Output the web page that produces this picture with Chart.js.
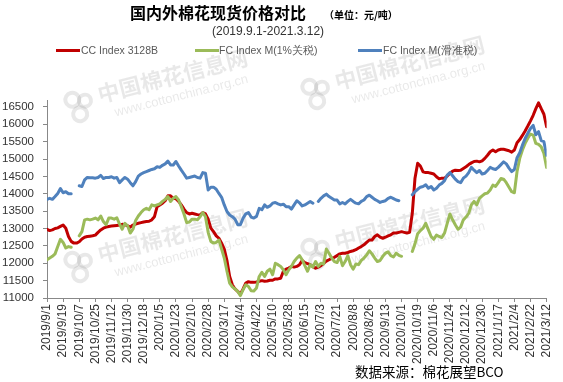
<!DOCTYPE html>
<html>
<head>
<meta charset="utf-8">
<script src="https://cdn.jsdelivr.net/npm/chart.js@4/dist/chart.umd.min.js"></script>
<style>
body { margin: 0; background: #fff; }
#wrap { position: relative; width: 563px; height: 382px; font-family: "Liberation Sans", Arial, sans-serif; }
#chart { position: absolute; left: 0; top: 0; }
.t { position: absolute; white-space: nowrap; }
.key { position: absolute; height: 3px; width: 24px; }
</style>
</head>
<body>
<div id="wrap">
  <canvas id="chart" width="563" height="382"></canvas>
  <div class="t" style="left:130px;top:0;line-height:20px;font:bold 16px 'Noto Sans CJK SC';color:#000;">国内外棉花现货价格对比</div>
  <div class="t" style="left:324px;top:7px;line-height:14px;font:bold 10px 'Noto Sans CJK SC';color:#000;">（单位：元/吨）</div>
  <div class="t" style="left:212px;top:23px;line-height:16px;font-size:12px;color:#333;">(2019.9.1-2021.3.12)</div>

  <div class="key" style="left:56px;top:49px;background:#C00000;"></div>
  <div class="t" style="left:81px;top:44px;line-height:13px;font-size:10.5px;color:#595959;">CC Index 3128B</div>
  <div class="key" style="left:195px;top:49px;background:#9BBB59;"></div>
  <div class="t" style="left:219px;top:44px;line-height:13px;font-size:10.5px;color:#595959;">FC Index M(1%关税)</div>
  <div class="key" style="left:358px;top:49px;background:#4F81BD;"></div>
  <div class="t" style="left:383px;top:44px;line-height:13px;font-size:10.5px;color:#595959;">FC Index M(滑准税)</div>

  <div class="t" style="left:355px;top:361px;line-height:18px;font:13.5px 'Noto Sans CJK SC';color:#000;">数据来源：棉花展望BCO</div>
</div>
<script>
// one value every 3 days from 2019/9/1 to 2021/3/12
const START = Date.UTC(2019, 8, 1);
const STEP_DAYS = 3;
const LAST_DAY = 558;
const TICK_DAYS = 18;
const yTicks = [11000, 11500, 12000, 12500, 13000, 13500, 14000, 14500, 15000, 15500, 16000, 16500];

const ccIndex = [
  12980,12940,12960,13000,13020,13060,13100,13010,12770,12630,
  12580,12580,12620,12700,12750,12770,12780,12790,12810,12890,
  12960,13010,13040,13060,13070,13080,13090,13100,13120,13110,
  13080,13040,13100,13130,13150,13170,13190,13200,13210,13250,
  13340,13630,13680,13730,13800,13940,13940,13870,13860,13780,
  13680,13560,13460,13420,13440,13420,13400,13390,13460,13420,
  13270,13010,12910,12790,12720,12580,12410,12080,11620,11380,
  11260,11190,11110,11260,11430,11470,11450,11450,11460,11480,
  11500,11480,11490,11510,11510,11550,11550,11570,11770,11830,
  11860,11910,11890,11910,11960,12080,12020,11990,11960,11910,
  11860,11890,11930,12000,12060,12100,12140,12170,12220,12270,
  12290,12290,12310,12340,12360,12390,12440,12480,12530,12600,
  12670,12670,12770,12820,12750,12720,12750,12790,12820,12870,
  12870,12890,12910,12890,12870,12890,13440,14450,14880,14800,
  14630,14610,14610,14590,14570,14490,14430,14450,14450,14510,
  14590,14650,14680,14670,14680,14730,14780,14840,14890,14930,
  14940,14920,14950,15020,15110,15210,15260,15210,15260,15280,
  15280,15260,15240,15200,15260,15470,15560,15680,15810,15950,
  16100,16260,16450,16620,16450,16290,15930
];

const fcIndexM1 = [
  12100,12150,12200,12270,12480,12690,12600,12440,12480,12460,
  null,null,12790,12910,13250,13270,13250,13270,13300,13250,
  13360,13200,13110,13300,13300,13270,13310,13130,12980,13150,
  13080,12870,12980,13230,13360,13460,13540,13580,13540,13680,
  13650,13680,13710,13780,13840,13920,13780,13870,13920,13820,
  13630,13420,13170,13190,13270,13270,13250,13340,13460,13340,
  12890,12630,12580,12600,12670,12410,12150,11770,11430,11320,
  11260,11190,11070,11240,11380,11330,11210,11200,11290,11620,
  11740,11620,11770,11830,11670,12000,11960,11910,11810,11670,
  11810,11910,12050,12150,12220,12100,11930,11770,11960,11890,
  12050,11910,12000,11980,12410,12290,12150,12050,12020,12200,
  11930,12050,12220,11960,11830,11980,11960,12080,12150,12240,
  12360,12270,12150,12050,12080,12200,12290,12330,12220,12180,
  12290,12230,12200,null,null,null,12340,12560,12850,12940,
  13010,13150,12960,12770,12690,12810,12770,12740,12870,13150,
  13420,13250,13110,12980,13040,13250,13330,13440,13680,13780,
  13680,13870,13940,14000,14020,14110,14250,14210,14320,14440,
  14420,14320,14190,14060,14030,14640,15020,15260,15450,15600,
  15720,15690,15450,15420,15350,15160,14760
];

const fcIndexSlide = [
  13840,13870,13840,13920,14010,14150,14030,14060,14000,14000,
  null,null,14230,14210,14400,14470,14460,14460,14450,14470,
  14530,14440,14470,14470,14490,14450,14470,14320,14400,14470,
  14420,14320,14230,14350,14510,14570,14610,14640,14670,14700,
  14720,14780,14760,14820,14860,14940,14830,14830,14930,14800,
  14680,14570,14450,14470,14490,14510,14470,14450,14610,14590,
  14110,14190,14190,14130,14010,13900,13680,13490,13390,13340,
  13270,13110,13110,13300,13420,13460,13330,13300,13350,13580,
  13540,13680,13610,13650,13730,13750,13710,13680,13700,13630,
  13630,13560,13680,13800,13740,13650,13680,13730,13780,13730,
  null,13780,13870,13940,13990,13920,13870,13820,13820,13710,
  13750,13710,13780,13840,13780,13730,13710,13780,13820,13920,
  13960,13900,13840,13800,13750,13780,13800,13870,13900,13860,
  13820,13800,null,null,null,null,13970,14060,14130,14190,
  14210,14260,14160,14210,14110,14160,14250,14300,14380,14540,
  14610,14520,14420,14350,14320,14450,14510,14610,14760,14680,
  14610,14670,14570,14590,14670,14760,14720,14700,14760,14840,
  14920,14860,14740,14640,14700,15040,15180,15400,15590,15740,
  15880,15970,15700,15790,15530,15500,15110
];

function toPoints(arr) {
  return arr.map((v, i) => ({ x: i * STEP_DAYS, y: v }));
}

function dayLabel(d) {
  const t = new Date(START + d * 86400000);
  return t.getUTCFullYear() + "/" + (t.getUTCMonth() + 1) + "/" + t.getUTCDate();
}

// faint site watermark behind the plot
const watermark = {
  id: "watermark",
  beforeDraw(chart) {
    const ctx = chart.ctx;
    const spots = [[100, 103], [337, 90], [100, 263], [337, 250]];
    ctx.save();
    spots.forEach(([x, y]) => {
      ctx.save();
      ctx.translate(x, y);
      ctx.rotate(-0.25);
      ctx.fillStyle = "rgba(0,0,0,0.09)";
      ctx.font = "bold 22px 'Noto Sans CJK SC'";
      ctx.fillText("中国棉花信息网", 0, 0);
      ctx.font = "13px 'Liberation Sans'";
      ctx.fillText("www.cottonchina.org.cn", 12, 17);
      ctx.strokeStyle = "rgba(0,0,0,0.09)";
      ctx.lineWidth = 4;
      [[-26, -10, 7], [-14, -6, 6], [-22, 6, 7]].forEach(([cx, cy, r]) => {
        ctx.beginPath();
        ctx.arc(cx, cy, r, 0, Math.PI * 2);
        ctx.stroke();
      });
      ctx.restore();
    });
    ctx.restore();
  }
};

const axisGrid = { drawOnChartArea: false, drawTicks: true, tickLength: 4, color: "#888" };

new Chart(document.getElementById("chart"), {
  type: "line",
  data: {
    datasets: [
      { label: "CC Index 3128B", data: toPoints(ccIndex), borderColor: "#C00000", order: 3 },
      { label: "FC Index M(1%关税)", data: toPoints(fcIndexM1), borderColor: "#9BBB59", order: 2 },
      { label: "FC Index M(滑准税)", data: toPoints(fcIndexSlide), borderColor: "#4F81BD", order: 1 }
    ]
  },
  plugins: [watermark],
  options: {
    responsive: false,
    animation: false,
    spanGaps: false,
    layout: { padding: { top: 100, right: 10, left: 0, bottom: 0 } },
    plugins: { legend: { display: false }, tooltip: { enabled: false } },
    elements: {
      point: { radius: 0 },
      line: { borderWidth: 3, tension: 0, borderJoinStyle: "round", borderCapStyle: "round" }
    },
    scales: {
      x: {
        type: "linear",
        min: 0,
        max: LAST_DAY,
        ticks: {
          stepSize: TICK_DAYS,
          maxTicksLimit: 40,
          autoSkip: false,
          maxRotation: 90,
          minRotation: 90,
          padding: 2,
          color: "#333",
          font: { family: "Liberation Sans", size: 12 },
          callback: v => dayLabel(v)
        },
        grid: axisGrid,
        border: { color: "#888" },
        afterFit: s => { s.height = 84; }
      },
      y: {
        min: 11000,
        max: 16700,
        afterBuildTicks: s => { s.ticks = yTicks.map(v => ({ value: v })); },
        ticks: {
          autoSkip: false,
          padding: 9,
          color: "#333",
          font: { family: "Liberation Sans", size: 11.5 },
          callback: v => String(v)
        },
        grid: axisGrid,
        border: { color: "#888" },
        afterFit: s => { s.width = 47; }
      }
    }
  }
});
</script>
</body>
</html>
